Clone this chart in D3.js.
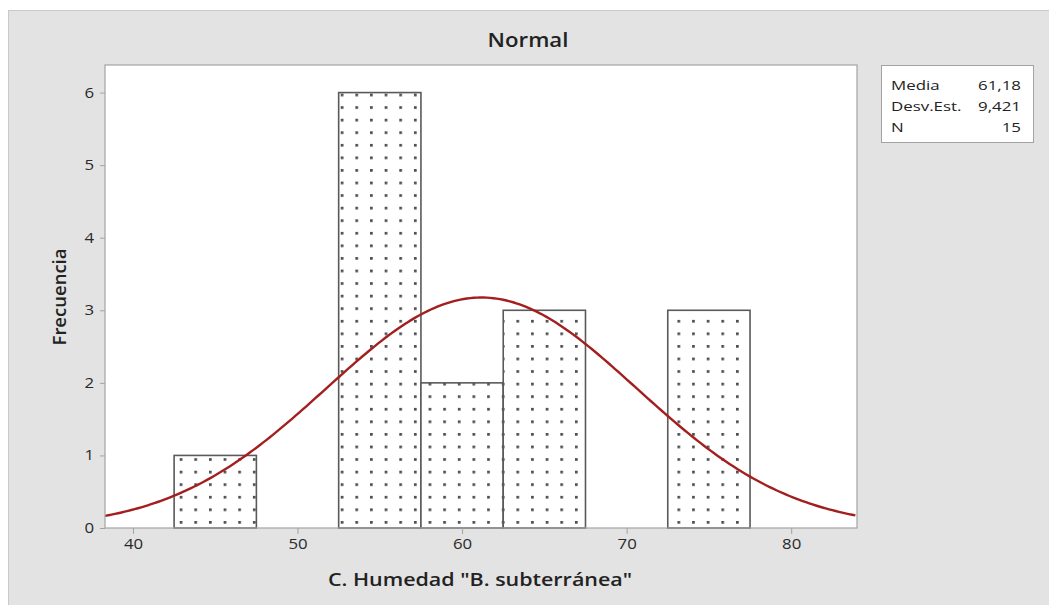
<!DOCTYPE html>
<html>
<head>
<meta charset="utf-8">
<script src="https://cdn.jsdelivr.net/npm/d3@7"></script>
<style>
  body { margin: 0; background: #fff; }
  svg { display: block; }
  text { font-family: "Open Sans", "Noto Sans", sans-serif; fill: #222; }
</style>
</head>
<body>
<div id="chart"></div>
<script>
// histogram bins (lower edge) and counts
const binStart = [42.5, 47.5, 52.5, 57.5, 62.5, 67.5, 72.5]
const binCounts = [1, 0, 6, 2, 3, 0, 3]
const binWidth = 5
const xTicks = [40, 50, 60, 70, 80]
const yTicks = [0, 1, 2, 3, 4, 5, 6]
// fitted normal, from the summary box
const statLabels = ["Media", "Desv.Est.", "N"]
const statValues = ["61,18", "9,421", "15"]
const mean = 61.18, sd = 9.421, nObs = 15

const W = 1049, H = 605
const plot = { left: 105, right: 857, top: 65, bottom: 528 }
const SX = 1.2 // the original text looks stretched sideways

let svg = d3.select("#chart").append("svg").attr("width", W).attr("height", H)

// outer grey panel
svg.append("rect").attr("x", 8.5).attr("y", 10.5).attr("width", W).attr("height", H)
    .attr("fill", "#e3e3e3").attr("stroke", "#c9c9c9")

let x = d3.scaleLinear().domain([38.3, 84]).range([plot.left, plot.right])
let y = d3.scaleLinear().domain([0, 6.38]).range([plot.bottom, plot.top])

// dotted fill
let defs = svg.append("defs")
let pat = defs.append("pattern").attr("id", "dots").attr("patternUnits", "userSpaceOnUse")
    .attr("x", 179.7).attr("y", 521).attr("width", 14.64).attr("height", 12.57)
pat.append("rect").attr("width", 14.64).attr("height", 12.57).attr("fill", "#fff")
pat.append("rect").attr("x", 0).attr("y", 0).attr("width", 2.7).attr("height", 2.7).attr("fill", "#4d4d4d")

defs.append("clipPath").attr("id", "plotClip").append("rect")
    .attr("x", plot.left).attr("y", plot.top)
    .attr("width", plot.right - plot.left).attr("height", plot.bottom - plot.top)

// plot area
svg.append("rect").attr("x", plot.left).attr("y", plot.top)
    .attr("width", plot.right - plot.left).attr("height", plot.bottom - plot.top)
    .attr("fill", "#fff")

// bars
let bins = binStart.map((s, i) => ({ x0: s, x1: s + binWidth, n: binCounts[i] })).filter(d => d.n > 0)
svg.append("g").selectAll("rect").data(bins).enter().append("rect")
    .attr("x", d => x(d.x0))
    .attr("y", d => y(d.n))
    .attr("width", d => x(d.x1) - x(d.x0))
    .attr("height", d => y(0) - y(d.n))
    .attr("fill", "url(#dots)")
    .attr("stroke", "#5a5a5a")
    .attr("stroke-width", 1.6)

// normal curve scaled to counts
let dens = v => nObs * binWidth / (sd * Math.sqrt(2 * Math.PI)) * Math.exp(-0.5 * ((v - mean) / sd) ** 2)
let curvePts = d3.range(38.3, 84.01, 0.2).map(v => [v, dens(v)])
svg.append("path").attr("clip-path", "url(#plotClip)")
    .attr("d", d3.line().x(d => x(d[0])).y(d => y(d[1]))(curvePts))
    .attr("fill", "none").attr("stroke", "#a31f1f").attr("stroke-width", 2.4)

// plot border
svg.append("rect").attr("x", plot.left).attr("y", plot.top)
    .attr("width", plot.right - plot.left).attr("height", plot.bottom - plot.top)
    .attr("fill", "none").attr("stroke", "#a3a3a3").attr("stroke-width", 1.2)

// axes
let xAxis = svg.append("g").attr("transform", "translate(0," + plot.bottom + ")")
    .call(d3.axisBottom(x).tickValues(xTicks).tickSize(6).tickPadding(5).tickFormat(d3.format("d")))
let yAxis = svg.append("g").attr("transform", "translate(" + plot.left + ",0)")
    .call(d3.axisLeft(y).tickValues(yTicks).tickSize(5).tickPadding(4).tickFormat(d3.format("d")))
for (let ax of [xAxis, yAxis]) {
    ax.select(".domain").remove()
    ax.selectAll(".tick line").attr("stroke", "#a3a3a3")
    ax.selectAll(".tick text").style("font-size", "14px").style("fill", "#2a2a2a")
        .style("font-family", "'Open Sans', sans-serif")
        .attr("transform", "scale(" + SX + ",1)")
}

function stretched(cx, cy, str, size, weight, sx) {
    return svg.append("g").attr("transform", "translate(" + cx + "," + cy + ") scale(" + sx + ",1)")
        .append("text").attr("text-anchor", "middle")
        .style("font-size", size).style("font-weight", weight).text(str)
}

// titles
stretched(528, 47, "Normal", "19px", 600, 1.17)
stretched(480, 586, "C. Humedad \"B. subterránea\"", "18.5px", 600, 1.16)
svg.append("text").attr("transform", "translate(66,297) rotate(-90)").attr("text-anchor", "middle")
    .style("font-size", "18.5px").style("font-weight", 600).text("Frecuencia")

// summary box
let leg = svg.append("g")
leg.append("rect").attr("x", 881.5).attr("y", 65.5).attr("width", 152).attr("height", 77)
    .attr("fill", "#fff").attr("stroke", "#a3a3a3")
statLabels.forEach((s, i) => {
    leg.append("g").attr("transform", "translate(891," + (90 + i * 21) + ") scale(1.25,1)")
        .append("text").style("font-size", "13.5px").text(s)
    leg.append("g").attr("transform", "translate(1021," + (90 + i * 21) + ") scale(1.25,1)")
        .append("text").attr("text-anchor", "end").style("font-size", "13.5px").text(statValues[i])
})
</script>
</body>
</html>
